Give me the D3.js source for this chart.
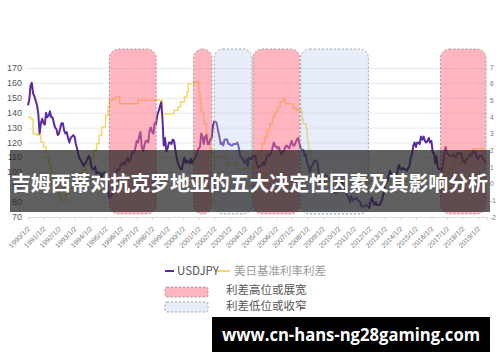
<!DOCTYPE html>
<html>
<head>
<meta charset="utf-8">
<script src="https://cdn.jsdelivr.net/npm/d3@7"></script>
<style>
body { margin: 0; background: #fff; }
svg { display: block; font-family: "Noto Sans CJK SC", "Liberation Sans", sans-serif; }
</style>
</head>
<body>
<div id="container"></div>
<script>
// monthly USDJPY, starting 1990-01
const usdjpyStart = "1990-01";
const usdjpy = [
  145, 149, 158, 160, 153, 151, 148, 145, 139, 126, 133, 136,
  133, 132, 140, 137, 138, 141, 137, 137, 133, 130, 129, 125,
  126, 130, 133, 133, 128, 126, 127, 123, 120, 123, 124, 125,
  124, 119, 116, 112, 109, 108, 106, 104, 106, 107, 109, 111,
  109, 104, 102, 102, 104, 99, 100, 100, 99, 97, 99, 100,
  99, 97, 88, 83, 84, 85, 88, 97, 100, 102, 101, 103,
  106, 105, 107, 105, 108, 110, 107, 108, 111, 114, 113, 116,
  121, 120, 124, 127, 117, 114, 118, 121, 121, 120, 128, 130,
  127, 126, 133, 132, 138, 141, 144, 147, 136, 118, 123, 114,
  116, 120, 120, 119, 122, 121, 115, 110, 106, 104, 102, 102,
  107, 110, 106, 108, 107, 106, 109, 106, 108, 109, 111, 114,
  116, 117, 126, 124, 119, 124, 125, 119, 119, 122, 123, 131,
  134, 134, 133, 128, 124, 119, 120, 118, 122, 122, 122, 119,
  119, 118, 118, 119, 119, 119, 120, 117, 111, 110, 109, 107,
  106, 109, 104, 110, 109, 109, 111, 110, 111, 106, 103, 104,
  104, 105, 107, 105, 108, 111, 112, 111, 113, 116, 120, 118,
  117, 116, 117, 114, 112, 114, 114, 117, 118, 117, 116, 119,
  121, 118, 118, 120, 122, 123, 119, 116, 115, 115, 111, 112,
  106, 104, 100, 104, 105, 106, 108, 108, 106, 98, 95, 91,
  90, 97, 98, 98, 96, 96, 95, 93, 90, 90, 86, 93,
  90, 89, 93, 94, 91, 88, 86, 84, 83, 80, 84, 81,
  82, 82, 83, 81, 81, 80, 77, 77, 77, 78, 78, 77,
  76, 81, 83, 80, 78, 80, 78, 78, 78, 80, 82, 86,
  91, 93, 94, 98, 101, 99, 98, 98, 98, 98, 102, 105,
  102, 102, 103, 102, 102, 101, 103, 104, 110, 112, 118, 120,
  117, 120, 120, 119, 124, 122, 124, 121, 120, 121, 123, 120,
  121, 113, 113, 106, 111, 103, 102, 103, 101, 105, 114, 117,
  113, 112, 111, 111, 111, 112, 110, 110, 113, 113, 112, 113,
  109, 107, 106, 109, 109, 111, 112, 111, 114, 113, 114, 110,
  109, 111, 111, 111, 109, 108, 106
];

// US-Japan policy rate spread (step changes)
const spreadDates = [
  "1990-01", "1990-03", "1990-05", "1990-08", "1990-11", "1991-01", "1991-03", "1991-05",
  "1991-07", "1991-09", "1991-11", "1992-01", "1992-03", "1992-06", "1992-09", "1993-01",
  "1993-04", "1993-07", "1993-10", "1994-02", "1994-04", "1994-06", "1994-08", "1994-10",
  "1995-01", "1995-03", "1995-04", "1995-07", "1995-09", "1995-12", "1997-02", "1998-09",
  "1999-06", "1999-09", "1999-11", "2000-02", "2000-04", "2000-05", "2000-09", "2001-01",
  "2001-02", "2001-03", "2001-05", "2001-07", "2001-08", "2001-10", "2001-11", "2002-01",
  "2002-11", "2003-06", "2004-06", "2004-08", "2004-10", "2004-12", "2005-02", "2005-04",
  "2005-06", "2005-08", "2005-10", "2005-12", "2006-02", "2006-04", "2006-06", "2006-08",
  "2007-02", "2007-05", "2007-09", "2007-10", "2007-12", "2008-01", "2008-02", "2008-04",
  "2008-05", "2008-10", "2008-12", "2016-01", "2016-12", "2017-03", "2017-06", "2017-12",
  "2018-03", "2018-06", "2018-09", "2019-05", "2019-08"
];
const spreadValues = [
  4.0, 3.9, 3.0, 2.9, 2.5, 2.2, 1.6, 1.2,
  0.6, 0.2, -0.4, -0.8, -1.0, -0.6, -0.3, 0.1,
  0.5, 0.8, 1.2, 1.6, 2.0, 2.4, 2.9, 3.4,
  4.1, 4.6, 5.0, 5.1, 5.2, 4.8, 5.0, 4.2,
  4.4, 4.6, 4.9, 5.2, 5.5, 6.0, 6.1, 5.5,
  5.0, 4.3, 3.6, 3.0, 2.6, 2.1, 1.8, 1.6,
  1.2, 0.9, 1.0, 1.4, 1.7, 2.0, 2.4, 2.8,
  3.2, 3.6, 4.0, 4.3, 4.6, 4.9, 5.1, 4.8,
  4.5, 4.4, 3.9, 3.6, 3.3, 2.5, 2.0, 1.5,
  0.8, 0.5, 0.15, 0.4, 0.6, 0.9, 1.2, 1.5,
  1.7, 1.9, 2.1, 1.8, 1.8
];

const highSpans = [["1995-04", "1998-05"], ["2000-09", "2001-12"], ["2004-07", "2007-08"], ["2016-08", "2019-08"]];
const lowSpans = [["2002-01", "2004-07"], ["2007-08", "2012-01"]];

const leftTicks = [70, 80, 90, 100, 110, 120, 130, 140, 150, 160, 170];
const rightTicks = [-2, -1, 0, 1, 2, 3, 4, 5, 6, 7];
const tickYears = [1990, 1991, 1992, 1993, 1994, 1995, 1996, 1997, 1998, 1999,
  2000, 2001, 2002, 2003, 2004, 2005, 2006, 2007, 2008, 2009,
  2010, 2011, 2012, 2013, 2014, 2015, 2016, 2017, 2018, 2019];

const seriesNames = ["USDJPY", "美日基准利率利差"];
const spanNames = ["利差高位或展宽", "利差低位或收窄"];
const title = "吉姆西蒂对抗克罗地亚的五大决定性因素及其影响分析";
const footer = "www.cn-hans-ng28gaming.com";

const width = 500;
const height = 362;
const purple = "#5b2aa3";
const yellow = "#f2d868";

const parseMonth = d3.timeParse("%Y-%m");
const start = parseMonth(usdjpyStart);
const fxData = usdjpy.map((v, i) => ({ date: d3.timeMonth.offset(start, i), value: v }));
const spreadData = spreadDates.map((d, i) => ({ date: parseMonth(d), value: spreadValues[i] }));

const x = d3.scaleTime()
    .domain([new Date(1990, 0, 1), new Date(2019, 7, 1)])
    .range([28, 487]);

const yL = d3.scaleLinear()
    .domain([70, 170])
    .range([217, 68]);

const yR = d3.scaleLinear()
    .domain([-2, 7])
    .range([217, 67]);

const svg = d3.select("#container").append("svg")
    .attr("width", width)
    .attr("height", height);

// grid
svg.append("g")
    .selectAll("line")
    .data(leftTicks.slice(1))
    .join("line")
    .attr("x1", 28)
    .attr("x2", 487)
    .attr("y1", d => yL(d) + 0.5)
    .attr("y2", d => yL(d) + 0.5)
    .attr("stroke", "#e9e9e9");

// bottom axis
svg.append("g")
    .attr("transform", `translate(0,${yL(70)})`)
    .call(d3.axisBottom(x)
        .tickValues(tickYears.map(y => new Date(y, 0, 2)))
        .tickSize(3)
        .tickFormat(d3.timeFormat("%Y/%-m/%-d")))
    .call(g => g.select(".domain").attr("stroke", "#d8d8d8"))
    .call(g => g.selectAll(".tick line").attr("stroke", "#d8d8d8"))
    .call(g => g.selectAll(".tick text")
        .attr("font-family", "Liberation Sans, sans-serif")
        .attr("font-size", 7)
        .attr("fill", "#777")
        .attr("text-anchor", "end")
        .attr("dy", 0)
        .attr("transform", "translate(-2,8) rotate(-45)"));

// left labels
svg.append("g")
    .selectAll("text")
    .data(leftTicks)
    .join("text")
    .attr("x", 22)
    .attr("y", d => yL(d) + 3)
    .attr("text-anchor", "end")
    .attr("font-family", "Liberation Sans, sans-serif")
    .attr("font-size", 9)
    .attr("fill", "#555")
    .text(d => d);

// right labels
svg.append("g")
    .selectAll("text")
    .data(rightTicks)
    .join("text")
    .attr("x", 490)
    .attr("y", d => yR(d) + 2.5)
    .attr("font-family", "Liberation Sans, sans-serif")
    .attr("font-size", 6.5)
    .attr("fill", "#777")
    .text(d => d);

const fxLine = d3.line()
    .x(d => x(d.date))
    .y(d => yL(d.value));

const spreadLine = d3.line()
    .curve(d3.curveStepAfter)
    .x(d => x(d.date))
    .y(d => yR(d.value));

svg.append("path")
    .attr("fill", "none")
    .attr("stroke", yellow)
    .attr("stroke-width", 1.5)
    .attr("d", spreadLine(spreadData));

svg.append("path")
    .attr("fill", "none")
    .attr("stroke", purple)
    .attr("stroke-width", 2)
    .attr("stroke-linejoin", "round")
    .attr("d", fxLine(fxData));

// shaded spans
const spanTop = 49;
const spanBottom = 214;
function spans(data, fill) {
    svg.append("g")
        .selectAll("rect")
        .data(data)
        .join("rect")
        .attr("x", d => x(parseMonth(d[0])))
        .attr("width", d => x(parseMonth(d[1])) - x(parseMonth(d[0])) - 1)
        .attr("y", spanTop)
        .attr("height", spanBottom - spanTop)
        .attr("rx", 9)
        .attr("fill", fill)
        .attr("stroke", "#8c8c8c")
        .attr("stroke-width", 0.8)
        .attr("stroke-dasharray", "2,2");
}
spans(highSpans, "rgba(255,110,130,0.5)");
spans(lowSpans, "rgba(185,205,240,0.35)");

// legend
const lg = svg.append("g");
lg.selectAll("line")
    .data([purple, yellow])
    .join("line")
    .attr("x1", (d, i) => i ? 215 : 165)
    .attr("x2", (d, i) => i ? 230 : 174)
    .attr("y1", 271)
    .attr("y2", 271)
    .attr("stroke", d => d)
    .attr("stroke-width", 2);
lg.selectAll("text.series")
    .data(seriesNames)
    .join("text")
    .attr("class", "series")
    .attr("x", (d, i) => i ? 234 : 177)
    .attr("y", 275)
    .attr("font-size", 11.5)
    .attr("fill", (d, i) => i ? "#999" : "#555")
    .text(d => d);
lg.selectAll("rect")
    .data(["rgba(255,110,130,0.5)", "rgba(185,205,240,0.35)"])
    .join("rect")
    .attr("x", 165)
    .attr("y", (d, i) => 287 + i * 15)
    .attr("width", 43)
    .attr("height", 10)
    .attr("rx", 2)
    .attr("fill", d => d)
    .attr("stroke", "#8c8c8c")
    .attr("stroke-width", 0.8)
    .attr("stroke-dasharray", "2,2");
lg.selectAll("text.span")
    .data(spanNames)
    .join("text")
    .attr("class", "span")
    .attr("x", 226)
    .attr("y", (d, i) => 294 + i * 16)
    .attr("font-size", 11.5)
    .attr("fill", "#555")
    .text(d => d);

// title band
svg.append("rect")
    .attr("x", 10)
    .attr("y", 150)
    .attr("width", 480)
    .attr("height", 62)
    .attr("fill", "rgba(35,35,35,0.72)");
svg.append("text")
    .attr("x", 11)
    .attr("y", 191)
    .attr("font-size", 20)
    .attr("font-weight", 700)
    .attr("fill", "#fff")
    .attr("textLength", 477)
    .attr("lengthAdjust", "spacingAndGlyphs")
    .text(title);

// footer
svg.append("rect")
    .attr("x", 212)
    .attr("y", 317)
    .attr("width", 278)
    .attr("height", 35)
    .attr("fill", "#000");
svg.append("text")
    .attr("x", 222)
    .attr("y", 341)
    .attr("font-family", "Open Sans, sans-serif")
    .attr("font-size", 17)
    .attr("font-weight", 700)
    .attr("fill", "#fff")
    .attr("textLength", 258)
    .attr("lengthAdjust", "spacingAndGlyphs")
    .text(footer);
</script>
</body>
</html>
